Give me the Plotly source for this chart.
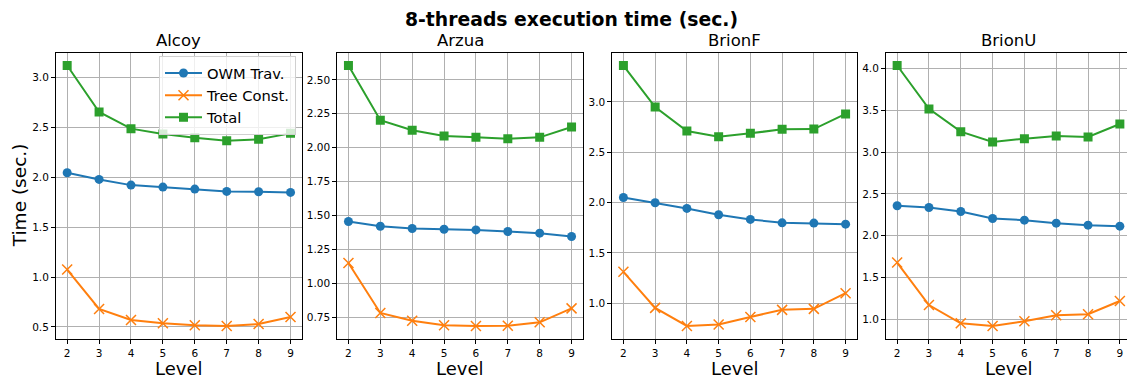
import plotly.graph_objects as go

levels = [2, 3, 4, 5, 6, 7, 8, 9]
datasets = ["Alcoy", "Arzua", "BrionF", "BrionU"]

owm_alcoy = [2.044, 1.977, 1.920, 1.900, 1.880, 1.857, 1.854, 1.847]
tree_alcoy = [1.075, 0.680, 0.570, 0.537, 0.517, 0.510, 0.530, 0.600]
total_alcoy = [3.117, 2.652, 2.485, 2.432, 2.395, 2.365, 2.378, 2.438]

owm_arzua = [1.455, 1.420, 1.403, 1.398, 1.393, 1.381, 1.369, 1.344]
tree_arzua = [1.149, 0.780, 0.723, 0.689, 0.684, 0.686, 0.711, 0.814]
total_arzua = [2.606, 2.202, 2.128, 2.086, 2.076, 2.066, 2.076, 2.152]

owm_brionf = [2.051, 1.998, 1.942, 1.879, 1.833, 1.799, 1.796, 1.786]
tree_brionf = [1.312, 0.954, 0.774, 0.788, 0.864, 0.934, 0.944, 1.100]
total_brionf = [3.362, 2.950, 2.711, 2.655, 2.688, 2.728, 2.731, 2.881]

owm_brionu = [2.358, 2.338, 2.290, 2.206, 2.186, 2.150, 2.126, 2.114]
tree_brionu = [1.679, 1.171, 0.952, 0.920, 0.976, 1.048, 1.060, 1.219]
total_brionu = [4.036, 3.517, 3.245, 3.121, 3.161, 3.193, 3.181, 3.337]

series_names = ["OWM Trav.", "Tree Const.", "Total"]
ytick_step = [0.5, 0.25, 0.5, 0.5]
ytick_fmt = [".1f", ".2f", ".1f", ".1f"]

all_data = [
    (owm_alcoy, tree_alcoy, total_alcoy),
    (owm_arzua, tree_arzua, total_arzua),
    (owm_brionf, tree_brionf, total_brionf),
    (owm_brionu, tree_brionu, total_brionu),
]

W, H = 1127, 382
FONT = "DejaVu Sans"
colors = ["#1f77b4", "#ff7f0e", "#2ca02c"]

# plot area pixel edges (left, right)
px_edges = [(56, 301.7), (337.3, 582.7), (612.3, 856.7), (886, 1131)]
top_px, bot_px = 52.5, 339
ydom = [1 - bot_px / H, 1 - top_px / H]

fig = go.Figure()
layout = dict(
    width=W, height=H,
    margin=dict(l=0, r=0, t=0, b=0),
    paper_bgcolor="white", plot_bgcolor="white",
    font=dict(family=FONT, color="black", size=10.5),
    showlegend=True,
)
annotations = []

for i, (name, (owm, tree, total)) in enumerate(zip(datasets, all_data)):
    ax = "" if i == 0 else str(i + 1)
    l, r = px_edges[i]
    xr0, xr1 = 1.65, 9.35
    ppu = (r - l) / (xr1 - xr0)
    dom_r = min(r, W)
    xr1_eff = xr0 + (dom_r - l) / ppu
    vals = owm + tree + total
    lo, hi = min(vals), max(vals)
    pad = (hi - lo) * 0.05
    yr = [lo - pad, hi + pad]

    layout["xaxis" + ax] = dict(
        domain=[l / W, dom_r / W], range=[xr0, xr1_eff], anchor="y" + ax,
        tickmode="array", tickvals=levels, ticktext=[str(v) for v in levels],
        showgrid=True, gridcolor="#b0b0b0", gridwidth=1, zeroline=False,
        showline=True, linecolor="black", linewidth=1, mirror=True,
        ticks="outside", ticklen=4, tickcolor="black",
        tickfont=dict(size=10.5, family=FONT),
    )
    layout["yaxis" + ax] = dict(
        domain=ydom, range=yr, anchor="x" + ax,
        dtick=ytick_step[i], tick0=0, tickformat=ytick_fmt[i],
        showgrid=True, gridcolor="#b0b0b0", gridwidth=1, zeroline=False,
        showline=True, linecolor="black", linewidth=1, mirror=(i < 3),
        ticks="outside", ticklen=4, tickcolor="black",
        tickfont=dict(size=10.5, family=FONT),
    )
    for k, (ys, sym) in enumerate(zip((owm, tree, total), ("circle", "x-thin", "square"))):
        marker = dict(symbol=sym, size=9, color=colors[k])
        if sym == "x-thin":
            marker.update(size=10, line=dict(color=colors[k], width=1.5))
        else:
            marker.update(line=dict(color=colors[k], width=0))
        fig.add_trace(go.Scatter(
            x=levels, y=ys, mode="lines+markers", name=series_names[k],
            line=dict(color=colors[k], width=2), marker=marker,
            xaxis="x" + ax, yaxis="y" + ax, showlegend=(i == 0),
        ))
    cx = (l + min(r, 1131)) / 2 / W
    annotations.append(dict(
        text=name, x=cx, y=1 - 41 / H, xref="paper", yref="paper",
        xanchor="center", yanchor="middle", showarrow=False,
        font=dict(size=16.5, family=FONT),
    ))
    annotations.append(dict(
        text="Level", x=cx, y=1 - 368 / H, xref="paper", yref="paper",
        xanchor="center", yanchor="middle", showarrow=False,
        font=dict(size=18, family=FONT),
    ))

annotations.append(dict(
    text="Time (sec.)", x=19.5 / W, y=(ydom[0] + ydom[1]) / 2, xref="paper", yref="paper",
    xanchor="center", yanchor="middle", showarrow=False, textangle=-90,
    font=dict(size=18.5, family=FONT),
))
annotations.append(dict(
    text="<b>8-threads execution time (sec.)</b>", x=571 / W, y=1 - 19.5 / H,
    xref="paper", yref="paper", xanchor="center", yanchor="middle", showarrow=False,
    font=dict(size=18.8, family=FONT),
))

layout["annotations"] = annotations
layout["legend"] = dict(
    x=159 / W, y=1 - 56 / H, xanchor="left", yanchor="top",
    bgcolor="rgba(255,255,255,0.8)", bordercolor="#d0d0d0", borderwidth=1,
    font=dict(size=14.7, family=FONT), itemwidth=37, tracegroupgap=0,
)
fig.update_layout(**layout)
fig.write_html("out.html")
